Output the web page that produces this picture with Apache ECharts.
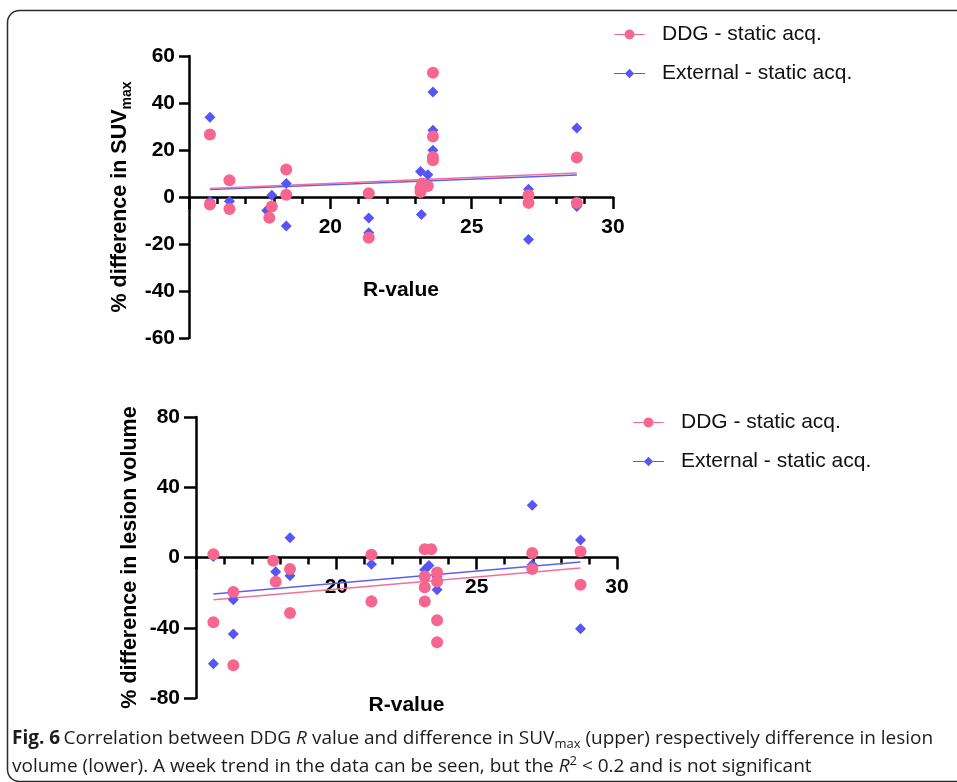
<!DOCTYPE html>
<html>
<head>
<meta charset="utf-8">
<script src="https://cdn.jsdelivr.net/npm/echarts@6/dist/echarts.min.js"></script>
<style>
html,body{margin:0;padding:0;background:#fff;}
#chart{width:957px;height:782px;}
</style>
</head>
<body>
<div id="chart"></div>
<script>
// ---- Data ----
var seriesNames = ['DDG - static acq.', 'External - static acq.'];

// Upper panel: % difference in SUVmax vs R-value
var suvDDG = [
  [15.74, 26.6], [15.74, -3.2], [16.43, 7.1], [16.43, -5.1], [17.84, -8.8], [17.93, -4.0],
  [18.44, 11.7], [18.44, 1.0], [21.36, 1.6], [21.36, -17.3], [23.19, 2.1], [23.19, 3.8],
  [23.25, 5.7], [23.45, 4.7], [23.63, 52.9], [23.63, 25.7], [23.63, 17.0], [23.63, 15.6],
  [27.01, 0.7], [27.01, -2.5], [28.72, 16.8], [28.72, -2.5]
];
var suvExt = [
  [15.74, 33.9], [15.74, -1.8], [16.43, -1.8], [17.75, -5.7], [17.93, 0.7], [18.44, 5.7],
  [18.44, -12.3], [21.36, -8.9], [21.36, -15.2], [23.19, 10.9], [23.45, 9.5], [23.22, -7.4],
  [23.63, 44.7], [23.63, 28.4], [23.63, 19.9], [27.01, 3.3], [27.01, -18.1], [28.72, 29.4],
  [28.72, -4.0]
];
var suvDDGFit = [[15.74, 3.6], [28.72, 10.2]];
var suvExtFit = [[15.74, 3.2], [28.72, 9.4]];

// Lower panel: % difference in lesion volume vs R-value
var volDDG = [
  [15.62, 1.9], [15.62, -36.9], [16.33, -19.6], [16.33, -61.4], [17.75, -1.9], [17.84, -13.8],
  [18.35, -6.6], [18.35, -31.6], [21.25, 1.5], [21.25, -25.0], [23.15, 4.7], [23.38, 4.7],
  [23.15, -10.8], [23.15, -17.0], [23.15, -25.0], [23.59, -8.5], [23.59, -13.6], [23.59, -35.7],
  [23.59, -48.2], [26.98, 2.5], [26.98, -6.6], [28.70, 3.4], [28.70, -15.5]
];
var volExt = [
  [15.62, 0.6], [15.62, -60.5], [16.33, -24.0], [16.33, -43.5], [17.84, -8.1], [18.35, 11.3],
  [18.35, -10.4], [21.25, -3.8], [21.25, -24.5], [23.15, -7.0], [23.30, -4.5], [23.59, -18.3],
  [23.59, -11.0], [26.98, 29.7], [26.98, -4.1], [28.70, 10.0], [28.70, -40.6]
];
var volDDGFit = [[15.62, -24.0], [28.70, -6.0]];
var volExtFit = [[15.62, -20.8], [28.70, -2.6]];

// Axis ranges / ticks
var xRange = [15, 30, 5];
var suvRange = [-60, 60, 20];
var volRange = [-80, 80, 40];

// ---- Layout / styling ----
var W = 957, H = 782;
var grids = [
  {left: 189, right: 344, top: 56, bottom: 444},
  {left: 196, right: 340, top: 417, bottom: 84}
];
function zeroOffset(g, range) {
  var h = H - g.top - g.bottom;
  return -((0 - range[0]) / (range[1] - range[0])) * h;
}
var PINK = '#F7668F';
var BLUE = '#5656F6';
var FONT = "'Liberation Sans', Arial, sans-serif";
var circleIcon = 'path://M0,4.5h10v1H0z M10,5a5,5 0 1,0 10,0a5,5 0 1,0 -10,0z M20,4.5h10v1H20z';
var diamondIcon = 'path://M0,4.5h10.5v1H0z M15,0.5L19.5,5L15,9.5L10.5,5z M19.5,4.5h10.5v1H19.5z';

function xAxisCfg(gridIndex, offset, nameGap, labelMargin) {
  return {
    gridIndex: gridIndex, type: 'value', min: xRange[0], max: xRange[1], interval: xRange[2],
    position: 'bottom', offset: offset,
    name: 'R-value', nameLocation: 'middle', nameGap: nameGap,
    nameTextStyle: {fontFamily: FONT, fontSize: 21, fontWeight: 'bold', color: '#000'},
    axisLine: {onZero: false, lineStyle: {color: '#000', width: 2.5}},
    axisTick: {show: true, inside: false, length: 12, lineStyle: {color: '#000', width: 2.5}},
    minorTick: {show: true, splitNumber: 5, length: 7, lineStyle: {color: '#000', width: 2.5}},
    axisLabel: {showMinLabel: false, margin: labelMargin, fontFamily: FONT, fontSize: 21, fontWeight: 'bold', color: '#000'},
    splitLine: {show: false}
  };
}
function yAxisCfg(gridIndex, range, nameText, nameGap, labelMargin, tickLen) {
  return {
    gridIndex: gridIndex, type: 'value', min: range[0], max: range[1], interval: range[2],
    name: nameText, nameLocation: 'middle', nameRotate: 90, nameGap: nameGap,
    nameTextStyle: {
      fontFamily: FONT, fontSize: 21, fontWeight: 'bold', color: '#000',
      rich: {
        a: {fontFamily: FONT, fontSize: 21.5, fontWeight: 'bold', color: '#000', lineHeight: 28},
        s: {fontFamily: FONT, fontSize: 14, fontWeight: 'bold', color: '#000', verticalAlign: 'bottom', lineHeight: 28}
      }
    },
    axisLine: {show: true, onZero: false, lineStyle: {color: '#000', width: 2.5}},
    axisTick: {show: true, inside: false, length: tickLen, lineStyle: {color: '#000', width: 2.5}},
    axisLabel: {margin: labelMargin, fontFamily: FONT, fontSize: 21, fontWeight: 'bold', color: '#000'},
    splitLine: {show: false}
  };
}
function scatter(name, data, xi, yi, isCircle) {
  return {
    name: name, type: 'scatter', xAxisIndex: xi, yAxisIndex: yi, data: data,
    symbol: isCircle ? 'circle' : 'diamond', symbolSize: isCircle ? 12 : 11,
    itemStyle: {color: isCircle ? PINK : BLUE, opacity: 1},
    z: isCircle ? 4 : 3, silent: true
  };
}
function fit(data, xi, yi, color) {
  return {
    type: 'line', xAxisIndex: xi, yAxisIndex: yi, data: data, symbol: 'none',
    lineStyle: {color: color, width: 1.5}, z: 2, silent: true, animation: false
  };
}
function legendCfg(left, top) {
  return {
    orient: 'vertical', left: left, top: top, itemWidth: 31, itemHeight: 10, itemGap: 18,
    selectedMode: false,
    textStyle: {fontFamily: FONT, fontSize: 21, color: '#111', padding: [0, 0, 0, 12]},
    data: [
      {name: seriesNames[0], icon: circleIcon},
      {name: seriesNames[1], icon: diamondIcon}
    ]
  };
}

var chart = echarts.init(document.getElementById('chart'), null, {renderer: 'canvas'});
var capFont = "'Open Sans', 'Noto Sans', sans-serif";
var capSize = 19;
var capColor = '#1c1c1c';
var option = {
  backgroundColor: '#fff',
  animation: false,
  grid: grids.map(function (g) {
    return {left: g.left, right: g.right, top: g.top, bottom: g.bottom, containLabel: false, outerBoundsMode: 'none'};
  }),
  xAxis: [
    xAxisCfg(0, zeroOffset(grids[0], suvRange), 83, 20),
    xAxisCfg(1, zeroOffset(grids[1], volRange), 137, 19)
  ],
  yAxis: [
    yAxisCfg(0, suvRange, '{a|% difference in SUV}{s|max}', 55, 14, 10),
    yAxisCfg(1, volRange, '{a|% difference in lesion volume}', 52, 16, 12)
  ],
  legend: [legendCfg(609, 19), legendCfg(628, 407)],
  series: [
    fit(suvExtFit, 0, 0, '#5E5EF2'),
    fit(suvDDGFit, 0, 0, '#F2709A'),
    scatter(seriesNames[1], suvExt, 0, 0, false),
    scatter(seriesNames[0], suvDDG, 0, 0, true),
    fit(volExtFit, 1, 1, '#5E5EF2'),
    fit(volDDGFit, 1, 1, '#F2709A'),
    scatter(seriesNames[1], volExt, 1, 1, false),
    scatter(seriesNames[0], volDDG, 1, 1, true)
  ],
  graphic: [
    {type: 'rect', left: 5, top: 8, silent: true, z: -10,
     shape: {width: 965, height: 771, r: 12},
     style: {fill: 'none', stroke: '#2b2b2b', lineWidth: 1.5}},
    {type: 'text', left: 12, top: 729, silent: true,
     style: {
       text: '{b|Fig. 6} {n|Correlation between DDG }{i|R}{n| value and difference in SUV}{sub|max}{n| (upper) respectively difference in lesion}',
       rich: {
         b: {fontFamily: capFont, fontSize: capSize, fontWeight: 'bold', fill: capColor, lineHeight: 24},
         n: {fontFamily: capFont, fontSize: capSize, fill: capColor, lineHeight: 24},
         i: {fontFamily: capFont, fontSize: capSize, fontStyle: 'italic', fill: capColor, lineHeight: 24},
         sub: {fontFamily: capFont, fontSize: 13, fill: capColor, verticalAlign: 'bottom', lineHeight: 24}
       }
     }},
    {type: 'text', left: 12, top: 755, silent: true,
     style: {
       text: '{n|volume (lower). A week trend in the data can be seen, but the }{i|R}{sup|2}{n| < 0.2 and is not significant}',
       rich: {
         n: {fontFamily: capFont, fontSize: capSize, fill: capColor, lineHeight: 24},
         i: {fontFamily: capFont, fontSize: capSize, fontStyle: 'italic', fill: capColor, lineHeight: 24},
         sup: {fontFamily: capFont, fontSize: 13, fill: capColor, verticalAlign: 'top', lineHeight: 24}
       }
     }}
  ]
};
chart.setOption(option);
</script>
</body>
</html>
